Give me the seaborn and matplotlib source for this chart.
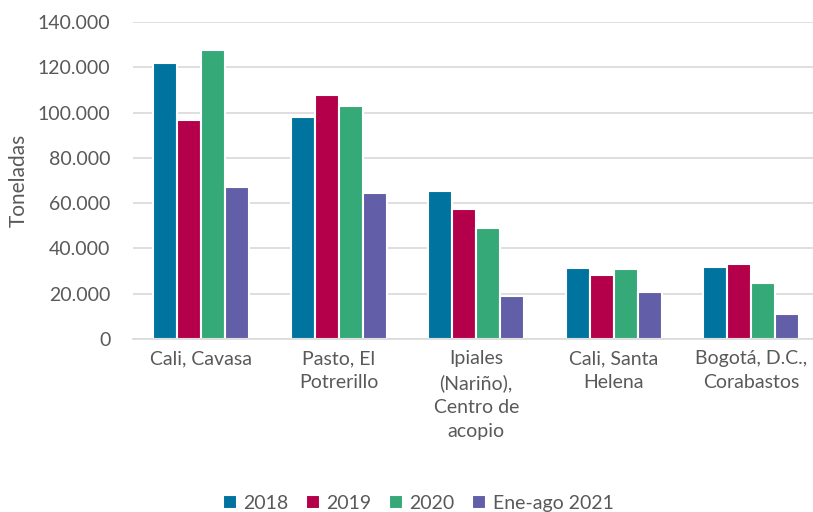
import pandas as pd
import matplotlib
matplotlib.use("Agg")
import matplotlib.pyplot as plt
import seaborn as sns
from matplotlib.ticker import FuncFormatter

# Data (toneladas)
mercados = ['Cali, Cavasa', 'Pasto, El\nPotrerillo', 'Ipiales\n(Nariño),\nCentro de\nacopio',
            'Cali, Santa\nHelena', 'Bogotá, D.C.,\nCorabastos']
periodos = ['2018', '2019', '2020', 'Ene-ago 2021']
v2018 = [121700, 98100, 65500, 31500, 31900]
v2019 = [96600, 107900, 57600, 28200, 32900]
v2020 = [127600, 103000, 49000, 30900, 24800]
v2021 = [67000, 64500, 19100, 20600, 11000]
colores = ['#00739F', '#B4004A', '#36A979', '#625FA8']

df = pd.DataFrame({'Mercado': mercados * 4,
                   'Periodo': [p for p in periodos for _ in mercados],
                   'Toneladas': v2018 + v2019 + v2020 + v2021})

sns.set_style("white")
plt.rcParams['font.family'] = ['Lato', 'DejaVu Sans']
gris = '#595959'

fig = plt.figure(figsize=(8.13, 5.12), dpi=100)
ax = fig.add_axes([0.163, 0.338, 0.837, 0.619])

sns.barplot(data=df, x='Mercado', y='Toneladas', hue='Periodo', palette=colores,
            saturation=1, width=0.7, edgecolor='white', linewidth=1.5, ax=ax, legend=True)

ax.set_ylim(0, 140000)
ax.set_xlim(-0.5, 4.45)
ax.set_yticks(range(0, 140001, 20000))
ax.yaxis.set_major_formatter(FuncFormatter(lambda v, p: f'{int(v):,}'.replace(',', '.')))
ax.grid(axis='y', color='#D9D9D9', linewidth=1.2)
ax.set_axisbelow(True)
for s in ['top', 'right', 'left']:
    ax.spines[s].set_visible(False)
ax.spines['bottom'].set_color('#D9D9D9')
ax.spines['bottom'].set_linewidth(1.2)
ax.tick_params(axis='both', length=0, labelsize=14, colors=gris, pad=8)
ax.tick_params(axis='y', pad=16)
for t in ax.get_xticklabels():
    t.set_linespacing(1.5)
    t.set_verticalalignment('top')
ax.set_xlabel('')
ax.set_ylabel('Toneladas', fontsize=15, color=gris, labelpad=6)

leg = ax.legend(loc='lower center', bbox_to_anchor=(0.42, -0.6), ncol=4, frameon=False,
                fontsize=14, handlelength=0.7, handleheight=0.7, handletextpad=0.35,
                columnspacing=0.9, labelcolor=gris)

fig.savefig('out.png', dpi=100)
